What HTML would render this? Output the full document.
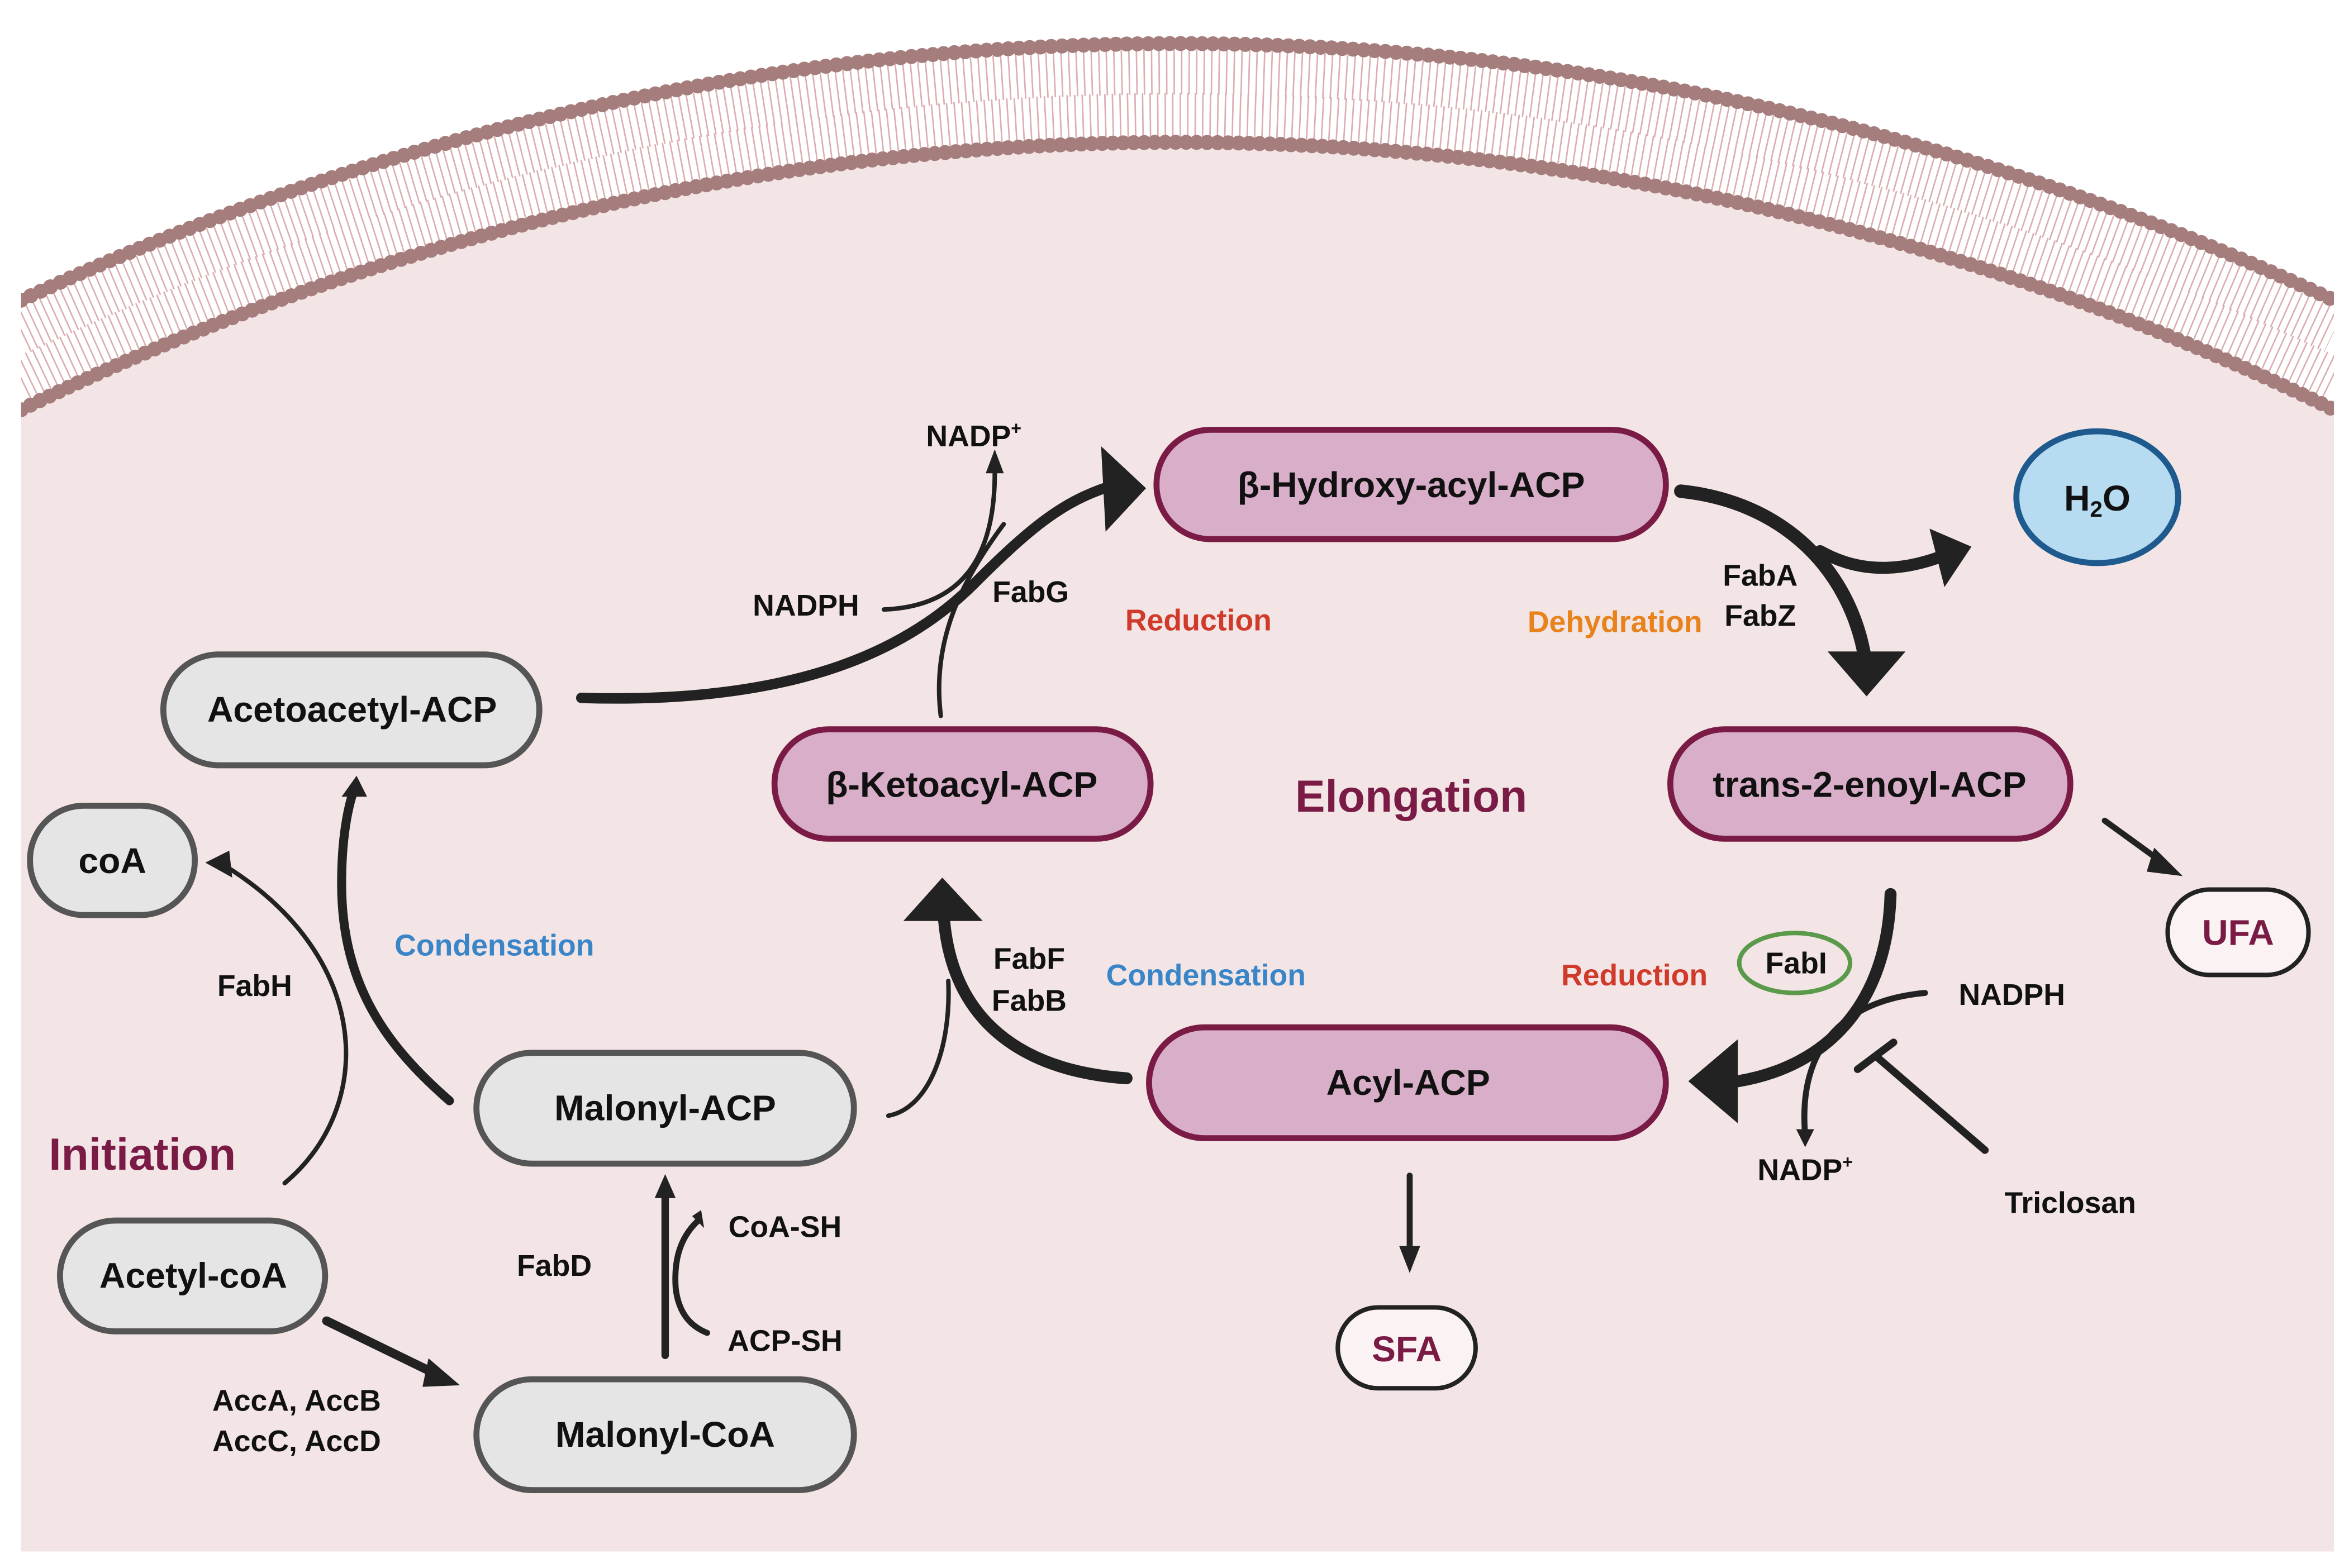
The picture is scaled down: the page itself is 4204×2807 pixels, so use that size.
<!DOCTYPE html>
<html><head><meta charset="utf-8"><style>
html,body{margin:0;padding:0;background:#fff;width:4204px;height:2807px;overflow:hidden;}
svg{display:block;}
text{font-family:"Liberation Sans",sans-serif;font-weight:bold;}
</style></head><body>
<svg width="4204" height="2807" viewBox="0 0 1568 1047" xmlns="http://www.w3.org/2000/svg">
<defs>
<clipPath id="cp"><rect x="14" y="0" width="1544" height="1036"/></clipPath>
</defs>
<rect x="0" y="0" width="1568" height="1047" fill="#fff"/>
<g clip-path="url(#cp)">
  <path d="M14,1036 L14,278 A1754,1754 0 0 1 1558,278 L1558,1036 Z" fill="#f3e5e5"/>
  <path d="M14,221.5 A1805,1805 0 0 1 1558,221.5" fill="none" stroke="#dcaeae" stroke-width="30" stroke-dasharray="1 4"/>
  <path d="M14,253.6 A1776,1776 0 0 1 1558,253.6" fill="none" stroke="#dcaeae" stroke-width="30" stroke-dasharray="1 4"/>
  <path d="M14,200.5 A1824,1824 0 0 1 1558,200.5" fill="none" stroke="#a57d7d" stroke-width="10" stroke-linecap="round" stroke-dasharray="0 7.2"/>
  <path d="M14,273.6 A1758,1758 0 0 1 1558,273.6" fill="none" stroke="#a57d7d" stroke-width="10" stroke-linecap="round" stroke-dasharray="0 7.0"/>
</g>

<g fill="none" stroke="#222" stroke-linecap="round">
  <path d="M388,466 C520,470 600,440 650,390 C690,350 710,335 740,325" stroke-width="7"/>
  <path d="M628,478 C622,430 640,390 670,350" stroke-width="3"/>
  <path d="M590,407 C640,405 665,375 664,312" stroke-width="3"/>
  <path d="M1122,328 C1190,335 1235,380 1245,440" stroke-width="9"/>
  <path d="M1215,368 C1245,385 1275,380 1300,370" stroke-width="8"/>
  <path d="M1405,548 L1445,577" stroke-width="4"/>
  <path d="M1262,597 C1260,670 1220,712 1160,722" stroke-width="8"/>
  <path d="M1285,663 C1230,668 1200,700 1205,758" stroke-width="4"/>
  <path d="M1325,768 L1252,705" stroke-width="5"/>
  <path d="M1240,714 L1264,696" stroke-width="5"/>
  <path d="M941,785 L941,835" stroke-width="4"/>
  <path d="M752,720 C680,715 635,680 630,612" stroke-width="8"/>
  <path d="M593,745 C620,740 635,700 633,655" stroke-width="3"/>
  <path d="M444,905 L444,800" stroke-width="5"/>
  <path d="M466,815 C452,828 450,845 451,860 C453,878 462,886 472,890" stroke-width="4"/>
  <path d="M218,882 L292,918" stroke-width="6"/>
  <path d="M300,735 C260,700 228,660 228,590 C228,560 232,540 236,528" stroke-width="6"/>
  <path d="M190,790 C250,740 250,640 150,578" stroke-width="3"/>
</g>
<g fill="#222">
  <polygon points="735,298 765,326 738,355"/>
  <polygon points="658,316 664,300 670,316"/>
  <polygon points="1220,435 1272,435 1246,465"/>
  <polygon points="1288,353 1316,365 1298,392"/>
  <polygon points="1438,566 1457,585 1433,582"/>
  <polygon points="1160,694 1160,750 1127,722"/>
  <polygon points="1199,754 1211,754 1205,766"/>
  <polygon points="934,832 948,832 941,850"/>
  <polygon points="603,615 656,615 629,586"/>
  <polygon points="437,800 451,800 444,784"/>
  <polygon points="462,812 470,820 468,808"/>
  <polygon points="286,907 307,925 282,926"/>
  <polygon points="228,532 245,532 238,518"/>
  <polygon points="153,568 137,576 155,586"/>
</g>

<g stroke="#7a1b45" stroke-width="4" fill="#d9aec8">
  <rect x="772" y="287" width="340" height="73" rx="36"/>
  <rect x="517" y="487" width="251" height="73" rx="36"/>
  <rect x="1115" y="487" width="267" height="73" rx="36"/>
  <rect x="767" y="686" width="345" height="74" rx="37"/>
</g>
<g stroke="#555" stroke-width="4" fill="#e5e5e5">
  <rect x="109" y="437" width="251" height="74" rx="37"/>
  <rect x="20" y="538" width="110" height="73" rx="36"/>
  <rect x="318" y="703" width="252" height="74" rx="37"/>
  <rect x="40" y="815" width="177" height="74" rx="37"/>
  <rect x="318" y="921" width="252" height="74" rx="37"/>
</g>
<ellipse cx="1400" cy="332" rx="54" ry="44" fill="#b7dcf2" stroke="#1f5a8f" stroke-width="4"/>
<rect x="1447" y="594" width="94" height="57" rx="28" fill="#fbf3f3" stroke="#222" stroke-width="3"/>
<rect x="893" y="873" width="92" height="54" rx="27" fill="#fbf3f3" stroke="#222" stroke-width="3"/>
<ellipse cx="1198" cy="643" rx="37" ry="20" fill="none" stroke="#5a9a4a" stroke-width="3"/>

<g font-size="24" text-anchor="middle" fill="#111">
  <text x="942" y="332">β-Hydroxy-acyl-ACP</text>
  <text x="642" y="532">β-Ketoacyl-ACP</text>
  <text x="1248" y="532">trans-2-enoyl-ACP</text>
  <text x="940" y="731">Acyl-ACP</text>
  <text x="235" y="482">Acetoacetyl-ACP</text>
  <text x="75" y="583">coA</text>
  <text x="444" y="748">Malonyl-ACP</text>
  <text x="129" y="860">Acetyl-coA</text>
  <text x="444" y="966">Malonyl-CoA</text>
  <text x="1400" y="341">H<tspan font-size="15" dy="4">2</tspan><tspan dy="-4">O</tspan></text>
  <text x="1494" y="631" fill="#7a1b45">UFA</text>
  <text x="939" y="909" fill="#7a1b45">SFA</text>
</g>
<g font-size="20" text-anchor="middle" fill="#111">
  <text x="650" y="298">NADP<tspan font-size="12" dy="-8">+</tspan></text>
  <text x="538" y="411">NADPH</text>
  <text x="688" y="402">FabG</text>
  <text x="800" y="421" fill="#d03a2a">Reduction</text>
  <text x="1175" y="391">FabA</text>
  <text x="1175" y="418">FabZ</text>
  <text x="1078" y="422" fill="#e8821a">Dehydration</text>
  <text x="330" y="638" fill="#3a85c8">Condensation</text>
  <text x="170" y="665">FabH</text>
  <text x="687" y="647">FabF</text>
  <text x="687" y="675">FabB</text>
  <text x="805" y="658" fill="#3a85c8">Condensation</text>
  <text x="1091" y="658" fill="#d03a2a">Reduction</text>
  <text x="1199" y="650">FabI</text>
  <text x="1343" y="671">NADPH</text>
  <text x="1205" y="788">NADP<tspan font-size="12" dy="-8">+</tspan></text>
  <text x="1382" y="810">Triclosan</text>
  <text x="524" y="826">CoA-SH</text>
  <text x="524" y="902">ACP-SH</text>
  <text x="370" y="852">FabD</text>
  <text x="198" y="942">AccA, AccB</text>
  <text x="198" y="969">AccC, AccD</text>
</g>
<g font-size="30" text-anchor="middle" fill="#7a1b45">
  <text x="942" y="542">Elongation</text>
  <text x="95" y="781">Initiation</text>
</g>
</svg>
</body></html>
